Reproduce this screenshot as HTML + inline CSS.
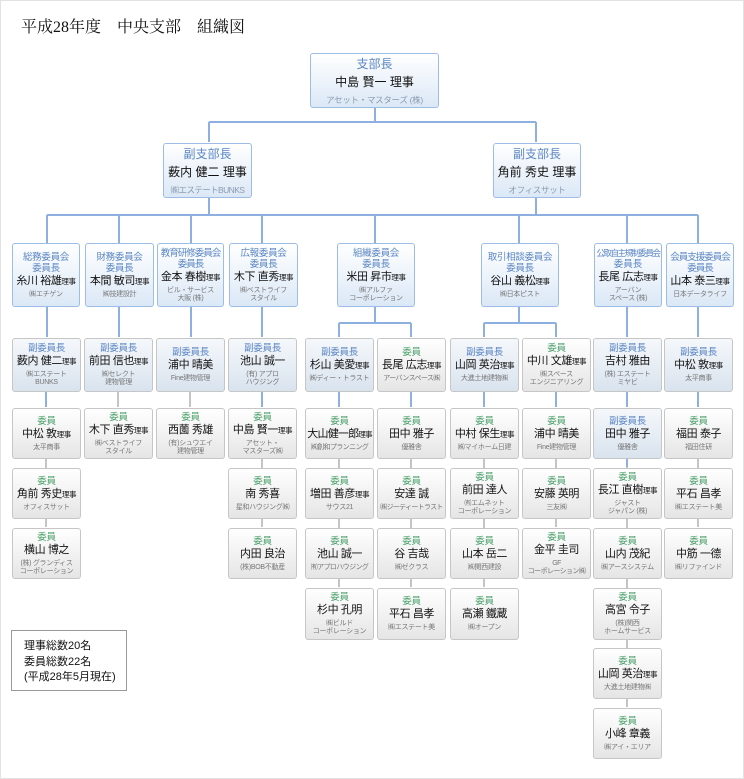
<!DOCTYPE html>
<html><head><meta charset="utf-8"><style>
body{margin:0;background:#fff;font-family:"Liberation Sans","Noto Sans CJK JP",sans-serif}
#w{position:relative;width:742px;height:777px;border:1px solid #e2e2e2;overflow:hidden}
.t{position:absolute;left:20px;top:13px;font-family:"Liberation Serif","Noto Serif CJK SC",serif;font-size:16px;color:#111;white-space:pre}
.b{position:absolute;box-sizing:border-box;width:69px;height:51px;border:1px solid #c6c6c6;border-radius:3px;background:linear-gradient(#fff,#e5e5e5);display:flex;flex-direction:column;align-items:center;justify-content:center;text-align:center;white-space:nowrap;overflow:hidden}
.v{background:linear-gradient(#f5f8fb,#d9e3ee)}
.c{border-color:#9dbde6;background:linear-gradient(#fff,#dbe8f6)}
.l{font-size:9.5px;line-height:11px;color:#5b86c4;letter-spacing:-0.3px}
.g{color:#4aa06a}
.n{font-size:11px;line-height:15px;color:#111;letter-spacing:-0.4px}
.n small{font-size:7.5px}
.s{font-size:7px;line-height:8px;color:#777;margin-top:2px;letter-spacing:-0.3px}
.big .l{font-size:12px;line-height:16px;letter-spacing:0}
.big .n{font-size:12px;line-height:20px;letter-spacing:0}
.big .s{font-size:8.5px;line-height:12px;color:#8a9bb0}
.note{position:absolute;left:10px;top:629px;width:116px;height:61px;box-sizing:border-box;border:1px solid #999;font-size:11px;line-height:15.5px;padding:8px 0 0 12px;color:#111}
</style></head><body><div id="w">
<div class="t">平成28年度　中央支部　組織図</div>
<svg width="744" height="779" style="position:absolute;left:-1px;top:-1px">
<g stroke="#8db0e0" stroke-width="2" fill="none">
<path d="M375 107V122M209 122H536M209 122V142M536 122V142"/>
<path d="M209 197V215M536 197V215M47 215H698"/>
<path d="M47 215V243M119 215V243M191 215V243M262 215V243M375 215V243M519 215V243M627 215V243M698 215V243"/>
<path d="M47 306V337M119 306V337M191 306V337M262 306V337M627 306V337M698 306V337"/>
<path d="M375 306V323M339 323H411M339 323V337M411 323V337"/>
<path d="M519 306V323M484 323H556M484 323V337M556 323V337"/>
<path d="M46 391V407M262 391V407M339 391V407M411 391V407M484 391V407M556 391V407M627 391V407M698 391V407M627 458V467"/>
</g>
<g stroke="#c4c4c4" stroke-width="2" fill="none">
<path d="M118 391V407M190 391V407"/>
<path d="M46 458V527M262 458V527M339 458V587M411 458V587M484 458V587M556 458V527M627 467V707M698 458V527"/>
</g>
</svg>

<div class="b c big" style="left:309px;top:52px;width:129px;height:55px"><div class="l">支部長</div><div class="n">中島 賢一 理事</div><div class="s">アセット・マスターズ (株)</div></div>
<div class="b c big" style="left:162px;top:142px;width:89px;height:55px"><div class="l">副支部長</div><div class="n">薮内 健二 理事</div><div class="s" style="letter-spacing:-0.6px">㈱エステートBUNKS</div></div>
<div class="b c big" style="left:492px;top:142px;width:88px;height:55px"><div class="l">副支部長</div><div class="n">角前 秀史 理事</div><div class="s">オフィスサット</div></div>

<div class="b c" style="left:11px;top:242px;width:68px;height:64px"><div class="l">総務委員会<br>委員長</div><div class="n">糸川 裕雄<small>理事</small></div><div class="s">㈱エチゲン</div></div>
<div class="b c" style="left:84px;top:242px;width:69px;height:64px"><div class="l">財務委員会<br>委員長</div><div class="n">本間 敏司<small>理事</small></div><div class="s">㈱技建設計</div></div>
<div class="b c" style="left:156px;top:242px;width:67px;height:64px"><div class="l" style="letter-spacing:-1px">教育研修委員会<br>委員長</div><div class="n">金本 春樹<small>理事</small></div><div class="s">ビル・サービス<br>大阪 (株)</div></div>
<div class="b c" style="left:228px;top:242px;width:69px;height:64px"><div class="l">広報委員会<br>委員長</div><div class="n">木下 直秀<small>理事</small></div><div class="s">㈱ベストライフ<br>スタイル</div></div>
<div class="b c" style="left:336px;top:242px;width:78px;height:64px"><div class="l">組織委員会<br>委員長</div><div class="n">米田 昇市<small>理事</small></div><div class="s">㈱アルファ<br>コーポレーション</div></div>
<div class="b c" style="left:480px;top:242px;width:78px;height:64px"><div class="l">取引相談委員会<br>委員長</div><div class="n">谷山 義松<small>理事</small></div><div class="s">㈱日本ピスト</div></div>
<div class="b c" style="left:593px;top:242px;width:68px;height:64px"><div class="l" style="letter-spacing:-1.5px;font-size:8.5px">公取自主規制委員会<br><span style="font-size:9.5px;letter-spacing:0">委員長</span></div><div class="n">長尾 広志<small>理事</small></div><div class="s">アーバン<br>スペース (株)</div></div>
<div class="b c" style="left:665px;top:242px;width:68px;height:64px"><div class="l" style="letter-spacing:-1px">会員支援委員会<br>委員長</div><div class="n">山本 泰三<small>理事</small></div><div class="s">日本データライフ</div></div>

<!-- col a -->
<div class="b v" style="left:11px;top:337px;height:54px"><div class="l">副委員長</div><div class="n">薮内 健二<small>理事</small></div><div class="s">㈱エステート<br>BUNKS</div></div>
<div class="b" style="left:11px;top:407px"><div class="l g">委員</div><div class="n">中松 敦<small>理事</small></div><div class="s">太平商事</div></div>
<div class="b" style="left:11px;top:467px"><div class="l g">委員</div><div class="n">角前 秀史<small>理事</small></div><div class="s">オフィスサット</div></div>
<div class="b" style="left:11px;top:527px"><div class="l g">委員</div><div class="n">横山 博之</div><div class="s">(株) グランディス<br>コーポレーション</div></div>
<!-- col b -->
<div class="b v" style="left:83px;top:337px;height:54px"><div class="l">副委員長</div><div class="n">前田 信也<small>理事</small></div><div class="s">㈱セレクト<br>建物管理</div></div>
<div class="b" style="left:83px;top:407px"><div class="l g">委員</div><div class="n">木下 直秀<small>理事</small></div><div class="s">㈱ベストライフ<br>スタイル</div></div>
<!-- col c -->
<div class="b v" style="left:155px;top:337px;height:54px"><div class="l">副委員長</div><div class="n">浦中 晴美</div><div class="s">Fine建物管理</div></div>
<div class="b" style="left:155px;top:407px"><div class="l g">委員</div><div class="n">西薗 秀雄</div><div class="s">(有)シュウエイ<br>建物管理</div></div>
<!-- col d -->
<div class="b v" style="left:227px;top:337px;height:54px"><div class="l">副委員長</div><div class="n">池山 誠一</div><div class="s">(有) アプロ<br>ハウジング</div></div>
<div class="b" style="left:227px;top:407px"><div class="l g">委員</div><div class="n">中島 賢一<small>理事</small></div><div class="s">アセット・<br>マスターズ㈱</div></div>
<div class="b" style="left:227px;top:467px"><div class="l g">委員</div><div class="n">南 秀喜</div><div class="s">星和ハウジング㈱</div></div>
<div class="b" style="left:227px;top:527px"><div class="l g">委員</div><div class="n">内田 良治</div><div class="s">(株)BOB不動産</div></div>
<!-- col e -->
<div class="b v" style="left:304px;top:337px;height:54px"><div class="l">副委員長</div><div class="n">杉山 美愛<small>理事</small></div><div class="s">㈱ディー・トラスト</div></div>
<div class="b" style="left:304px;top:407px"><div class="l g">委員</div><div class="n" style="letter-spacing:-0.8px">大山健一郎<small>理事</small></div><div class="s" style="letter-spacing:-0.6px">㈱創和プランニング</div></div>
<div class="b" style="left:304px;top:467px"><div class="l g">委員</div><div class="n">増田 善彦<small>理事</small></div><div class="s">サウス21</div></div>
<div class="b" style="left:304px;top:527px"><div class="l g">委員</div><div class="n">池山 誠一</div><div class="s" style="letter-spacing:-0.6px">㈲アプロハウジング</div></div>
<div class="b" style="left:304px;top:587px;height:52px"><div class="l g">委員</div><div class="n">杉中 孔明</div><div class="s">㈱ビルド<br>コーポレーション</div></div>
<!-- col f -->
<div class="b" style="left:376px;top:337px;height:54px"><div class="l g">委員</div><div class="n">長尾 広志<small>理事</small></div><div class="s" style="letter-spacing:-0.6px">アーバンスペース㈱</div></div>
<div class="b" style="left:376px;top:407px"><div class="l g">委員</div><div class="n">田中 雅子</div><div class="s">優雅舎</div></div>
<div class="b" style="left:376px;top:467px"><div class="l g">委員</div><div class="n">安達 誠</div><div class="s" style="letter-spacing:-0.7px">㈱ジーティートラスト</div></div>
<div class="b" style="left:376px;top:527px"><div class="l g">委員</div><div class="n">谷 吉哉</div><div class="s">㈱ゼクラス</div></div>
<div class="b" style="left:376px;top:587px;height:52px"><div class="l g">委員</div><div class="n">平石 昌孝</div><div class="s">㈱エステート美</div></div>
<!-- col g -->
<div class="b v" style="left:449px;top:337px;height:54px"><div class="l">副委員長</div><div class="n">山岡 英治<small>理事</small></div><div class="s">大進土地建物㈱</div></div>
<div class="b" style="left:449px;top:407px"><div class="l g">委員</div><div class="n">中村 保生<small>理事</small></div><div class="s">㈱マイホーム日建</div></div>
<div class="b" style="left:449px;top:467px"><div class="l g">委員</div><div class="n">前田 達人</div><div class="s">㈲エムネット<br>コーポレーション</div></div>
<div class="b" style="left:449px;top:527px"><div class="l g">委員</div><div class="n">山本 岳二</div><div class="s">㈱関西建設</div></div>
<div class="b" style="left:449px;top:587px;height:52px"><div class="l g">委員</div><div class="n">高瀬 鐵蔵</div><div class="s">㈱オープン</div></div>
<!-- col h -->
<div class="b" style="left:521px;top:337px;height:54px"><div class="l g">委員</div><div class="n">中川 文雄<small>理事</small></div><div class="s">㈱スペース<br>エンジニアリング</div></div>
<div class="b" style="left:521px;top:407px"><div class="l g">委員</div><div class="n">浦中 晴美</div><div class="s">Fine建物管理</div></div>
<div class="b" style="left:521px;top:467px"><div class="l g">委員</div><div class="n">安藤 英明</div><div class="s">三友㈱</div></div>
<div class="b" style="left:521px;top:527px"><div class="l g">委員</div><div class="n">金平 圭司</div><div class="s" style="letter-spacing:-0.6px">GF<br>コーポレーション㈱</div></div>
<!-- col i -->
<div class="b v" style="left:592px;top:337px;height:54px"><div class="l">副委員長</div><div class="n">吉村 雅由</div><div class="s">(株) エステート<br>ミヤビ</div></div>
<div class="b v" style="left:592px;top:407px"><div class="l">副委員長</div><div class="n">田中 雅子</div><div class="s">優雅舎</div></div>
<div class="b" style="left:592px;top:467px"><div class="l g">委員</div><div class="n">長江 直樹<small>理事</small></div><div class="s">ジャスト<br>ジャパン (株)</div></div>
<div class="b" style="left:592px;top:527px"><div class="l g">委員</div><div class="n">山内 茂紀</div><div class="s">㈱アースシステム</div></div>
<div class="b" style="left:592px;top:587px;height:52px"><div class="l g">委員</div><div class="n">高宮 令子</div><div class="s">(株)関西<br>ホームサービス</div></div>
<div class="b" style="left:592px;top:647px"><div class="l g">委員</div><div class="n">山岡 英治<small>理事</small></div><div class="s">大進土地建物㈱</div></div>
<div class="b" style="left:592px;top:707px"><div class="l g">委員</div><div class="n">小峰 章義</div><div class="s">㈱アイ・エリア</div></div>
<!-- col j -->
<div class="b v" style="left:663px;top:337px;height:54px"><div class="l">副委員長</div><div class="n">中松 敦<small>理事</small></div><div class="s">太平商事</div></div>
<div class="b" style="left:663px;top:407px"><div class="l g">委員</div><div class="n">福田 泰子</div><div class="s">福田住研</div></div>
<div class="b" style="left:663px;top:467px"><div class="l g">委員</div><div class="n">平石 昌孝</div><div class="s">㈱エステート美</div></div>
<div class="b" style="left:663px;top:527px"><div class="l g">委員</div><div class="n">中筋 一德</div><div class="s">㈱リファインド</div></div>

<div class="note">理事総数20名<br>委員総数22名<br>(平成28年5月現在)</div>
</div></body></html>
